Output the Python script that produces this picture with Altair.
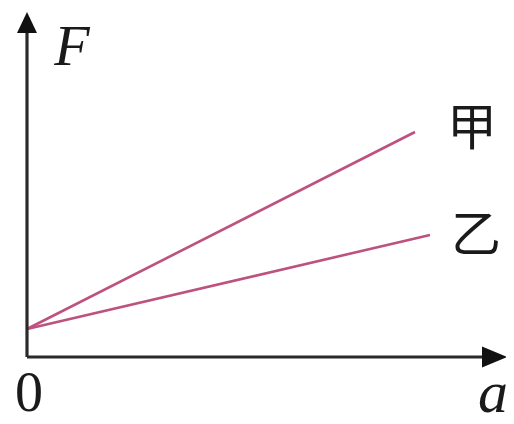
import altair as alt
import pandas as pd

# data (units: a along x, F along y)
line_names = ["甲", "甲", "乙", "乙"]
line_a = [0.0, 38.8, 0.0, 40.3]
line_F = [2.8, 22.5, 2.8, 12.2]

label_text = ["F", "0", "a", "甲", "乙"]
label_a = [4.5, 0.2, 46.6, 44.5, 44.9]
label_F = [30.9, -3.7, -3.7, 22.7, 12.0]
label_font = ["Liberation Serif", "Liberation Serif", "Liberation Serif", "Noto Sans CJK SC", "Noto Sans CJK SC"]
label_style = ["italic", "normal", "italic", "normal", "normal"]
label_size = [58, 56, 60, 50, 50]

axis_a = [0.0, 0.0]
axis_a2 = [46.0, 0.0]
axis_F = [0.0, 0.0]
axis_F2 = [0.0, 32.6]

x_dom = [-1.9, 47.9]
y_dom = [-5.9, 34.9]

xs = alt.Scale(domain=x_dom, nice=False, zero=False)
ys = alt.Scale(domain=y_dom, nice=False, zero=False)

lines_df = pd.DataFrame({"name": line_names, "a": line_a, "F": line_F})
axes_df = pd.DataFrame({"a": axis_a, "a2": axis_a2, "F": axis_F, "F2": axis_F2})

lines = alt.Chart(lines_df).mark_line(color="#bd527f", strokeWidth=2.6).encode(
    x=alt.X("a:Q", scale=xs, axis=None),
    y=alt.Y("F:Q", scale=ys, axis=None),
    detail="name:N",
)

axes = alt.Chart(axes_df).mark_rule(color="#2a2a2a", strokeWidth=3.2).encode(
    x=alt.X("a:Q", scale=xs, axis=None),
    x2="a2:Q",
    y=alt.Y("F:Q", scale=ys, axis=None),
    y2="F2:Q",
)

arrow_up = alt.Chart(pd.DataFrame({"a": [0.0], "F": [33.45]})).mark_point(
    shape="M0,-1L0.95,1L-0.95,1Z", size=441, filled=True, color="#111111", opacity=1
).encode(x=alt.X("a:Q", scale=xs, axis=None), y=alt.Y("F:Q", scale=ys, axis=None))

arrow_right = alt.Chart(pd.DataFrame({"a": [46.75], "F": [0.0]})).mark_point(
    shape="M1,0L-1,-0.84L-1,0.84Z", size=625, filled=True, color="#111111", opacity=1
).encode(x=alt.X("a:Q", scale=xs, axis=None), y=alt.Y("F:Q", scale=ys, axis=None))

text_layers = []
for t, xa, yf, fnt, st, sz in zip(label_text, label_a, label_F, label_font, label_style, label_size):
    df = pd.DataFrame({"t": [t], "a": [xa], "F": [yf]})
    text_layers.append(
        alt.Chart(df).mark_text(
            font=fnt, fontStyle=st, fontSize=sz, color="#1a1a1a", align="center", baseline="middle"
        ).encode(
            x=alt.X("a:Q", scale=xs, axis=None),
            y=alt.Y("F:Q", scale=ys, axis=None),
            text="t:N",
        )
    )

chart = alt.layer(lines, axes, arrow_up, arrow_right, *text_layers).properties(
    width=498,
    height=408,
    padding=0,
    autosize=alt.AutoSizeParams(type="none"),
    background="white",
).configure_view(stroke=None)

chart.save("out.html", embed_options={"renderer": "svg", "actions": False})
